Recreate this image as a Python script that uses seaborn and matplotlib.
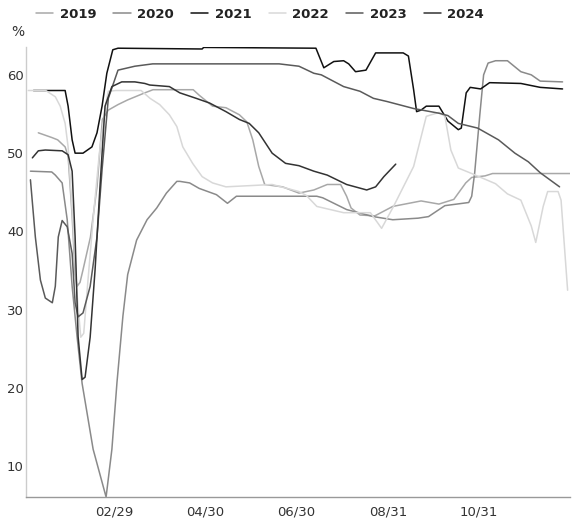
import matplotlib
matplotlib.use("Agg")
import matplotlib.pyplot as plt
import pandas as pd
import seaborn as sns

# ---------------- data (day index from Jan 1, value in %) ----------------
years = ["2019", "2020", "2021", "2022", "2023", "2024"]
tick_days = [59, 120, 181, 243, 304]
tick_labels = ["02/29", "04/30", "06/30", "08/31", "10/31"]
y_ticks = [10, 20, 30, 40, 50, 60]

days_2019 = [8, 17, 21, 26, 28, 30.7, 32.7, 34, 36, 38, 43, 47.4, 51, 55, 61.5, 68, 79.5, 85, 112,
             116, 125, 134, 143, 148, 152, 156, 160, 172, 183, 193, 202, 211, 215, 218, 224, 234,
             246, 265, 277, 287, 295, 299, 308, 313, 365]
vals_2019 = [52.6, 52.0, 51.7, 50.8, 49.6, 42.0, 34.5, 33.0, 33.5, 35.1, 39.3, 45.7, 54.3, 55.5, 56.2,
             56.8, 57.7, 58.1, 58.1, 57.4, 56.0, 55.8, 54.9, 54.0, 51.7, 48.3, 46.0, 45.7, 44.9, 45.3,
             46.0, 46.0, 44.5, 43.0, 42.1, 42.0, 43.2, 43.9, 43.5, 44.1, 46.2, 46.9, 47.1, 47.4, 47.4]

days_2020 = [2.7, 17, 19.4, 24, 27.4, 30.7, 34, 37.4, 44.8, 53.5, 57.4, 60.8, 64.8, 68, 74, 81, 87.5,
             94, 101, 103, 109.6, 116, 127.6, 135, 141, 195, 199, 215, 233, 246, 263, 270, 281, 297,
             299, 301, 304.5, 307, 310, 315, 323, 332, 339, 345, 360]
vals_2020 = [47.7, 47.6, 47.2, 46.2, 41.5, 33.0, 26.6, 20.6, 12.2, 6.1, 12.2, 20.7, 29.2, 34.5, 38.9,
             41.5, 43.0, 44.9, 46.4, 46.4, 46.2, 45.5, 44.7, 43.6, 44.5, 44.5, 44.3, 42.8, 41.9, 41.5,
             41.7, 41.9, 43.3, 43.7, 44.5, 47.5, 55.0, 60.0, 61.5, 61.8, 61.8, 60.4, 60.0, 59.2, 59.1]

days_2021 = [4.7, 26, 28, 30.7, 32.7, 38, 44, 47.4, 50.8, 54, 58, 61.5, 118, 119, 194.4, 199.7, 206.4,
             213, 216.4, 221, 228, 234.5, 253, 256.5, 260, 262, 265, 268.5, 277, 283, 290, 292,
             295.3, 298, 305, 311, 332, 345, 360]
vals_2021 = [58.0, 58.0, 56.0, 51.7, 50.0, 50.0, 50.8, 52.6, 56.0, 60.2, 63.2, 63.4, 63.3, 63.5, 63.4,
             60.9, 61.7, 61.8, 61.4, 60.4, 60.6, 62.8, 62.8, 62.4, 58.1, 55.3, 55.5, 56.0, 56.0, 54.1,
             53.0, 53.2, 57.7, 58.4, 58.2, 59.0, 58.9, 58.4, 58.2]

days_2022 = [1.3, 13, 19.4, 22.7, 26, 28, 31, 34, 36.5, 38.5, 41, 45, 49, 53, 55, 60, 77, 83, 89.5, 96,
             101, 105, 111.6, 118, 125, 134, 165, 183, 188, 195, 213, 231, 238.5, 246.5, 260, 268.5,
             277, 281, 285, 290, 299, 315, 323, 332, 339, 342, 347, 350, 357, 359, 363.4]
vals_2022 = [58.0, 58.0, 57.2, 56.0, 53.8, 50.8, 42.0, 32.0, 26.5, 27.0, 33.0, 42.0, 50.0, 56.0, 57.9,
             58.0, 58.0, 57.0, 56.2, 54.9, 53.4, 50.8, 48.7, 47.0, 46.2, 45.7, 46.0, 45.1, 44.6, 43.2,
             42.4, 42.4, 40.4, 43.2, 48.3, 54.7, 55.2, 54.7, 50.4, 48.1, 47.4, 46.1, 44.8, 44.0, 40.7,
             38.6, 43.2, 45.1, 45.1, 44.0, 32.5]

days_2023 = [2.7, 6, 9.4, 12.7, 17.4, 19.4, 21.4, 24, 27.4, 30.7, 32.7, 34.7, 38, 42.8, 47.4, 50.8, 55,
             61.5, 72.8, 84.8, 169.7, 183, 193, 198, 213, 224, 233, 242, 260, 277, 283, 290, 303, 317,
             328, 337, 345, 358]
vals_2023 = [46.6, 39.3, 33.8, 31.5, 30.9, 33.0, 39.3, 41.4, 40.6, 37.2, 30.9, 29.1, 29.6, 33.0, 39.3,
             47.9, 57.0, 60.6, 61.1, 61.4, 61.4, 61.1, 60.2, 60.0, 58.5, 57.9, 57.0, 56.6, 55.7, 55.1,
             54.8, 53.8, 53.2, 51.7, 50.0, 48.9, 47.5, 45.7]

days_2024 = [4, 8, 12.7, 24, 28, 30.7, 32.7, 34.7, 37.4, 39.4, 42.8, 46.1, 49.4, 52.8, 57.4, 64, 72.8,
             79.5, 82.8, 96, 103, 114, 123, 134, 143, 149.6, 156, 165, 174, 183, 193, 202, 215, 228.5,
             234.5, 240, 248]
vals_2024 = [49.4, 50.3, 50.4, 50.3, 49.8, 47.7, 39.3, 26.6, 21.1, 21.4, 26.5, 35.1, 45.7, 56.0, 58.5,
             59.1, 59.1, 58.9, 58.7, 58.5, 57.7, 57.0, 56.4, 55.3, 54.3, 53.8, 52.6, 50.0, 48.7, 48.4,
             47.7, 47.2, 46.0, 45.3, 45.7, 47.0, 48.6]

series = {
    "2019": (days_2019, vals_2019),
    "2020": (days_2020, vals_2020),
    "2021": (days_2021, vals_2021),
    "2022": (days_2022, vals_2022),
    "2023": (days_2023, vals_2023),
    "2024": (days_2024, vals_2024),
}
frames = [pd.DataFrame({"day": d, "value": v, "year": y}) for y, (d, v) in series.items()]
df = pd.concat(frames, ignore_index=True)

# ---------------- styling ----------------
palette = {"2019": "#a8a8a8", "2020": "#8a8a8a", "2021": "#111111",
           "2022": "#d8d8d8", "2023": "#5a5a5a", "2024": "#333333"}

sns.set_style("white")
plt.rcParams["font.family"] = ["DejaVu Sans"]

fig = plt.figure(figsize=(5.83, 5.24), dpi=100)
ax = fig.add_axes([0.0453, 0.0515, 0.9324, 0.858])

sns.lineplot(data=df, x="day", y="value", hue="year", hue_order=years, palette=palette,
             estimator=None, linewidth=1.1, ax=ax)

ax.set_xlim(0, 365)
ax.set_ylim(6.1, 63.5)
ax.set_xticks(tick_days)
ax.set_xticklabels(tick_labels)
ax.set_yticks(y_ticks)
ax.set_xlabel("")
ax.set_ylabel("")

for s in ["top", "right"]:
    ax.spines[s].set_visible(False)
ax.spines["left"].set_color("#cccccc")
ax.spines["bottom"].set_color("#999999")
ax.spines["left"].set_linewidth(1.0)
ax.spines["bottom"].set_linewidth(1.0)

ax.tick_params(axis="x", direction="in", length=6, width=1, color="#aaaaaa",
               labelsize=9.5, labelcolor="#333333", pad=6)
ax.tick_params(axis="y", direction="in", length=3, width=1, color="#cccccc",
               labelsize=9.5, labelcolor="#333333", pad=2)

fig.text(0.031, 0.938, "%", ha="center", va="center", fontsize=10, color="#333333")

sns.move_legend(ax, "center", bbox_to_anchor=(0.446, 0.973), bbox_transform=fig.transFigure,
                ncol=6, frameon=False, title=None, handlelength=1.3, handletextpad=0.5,
                columnspacing=1.3, fontsize=9.5)
for t in ax.get_legend().get_texts():
    t.set_fontweight("bold")
    t.set_color("#222222")

fig.savefig("out.png", dpi=100)
